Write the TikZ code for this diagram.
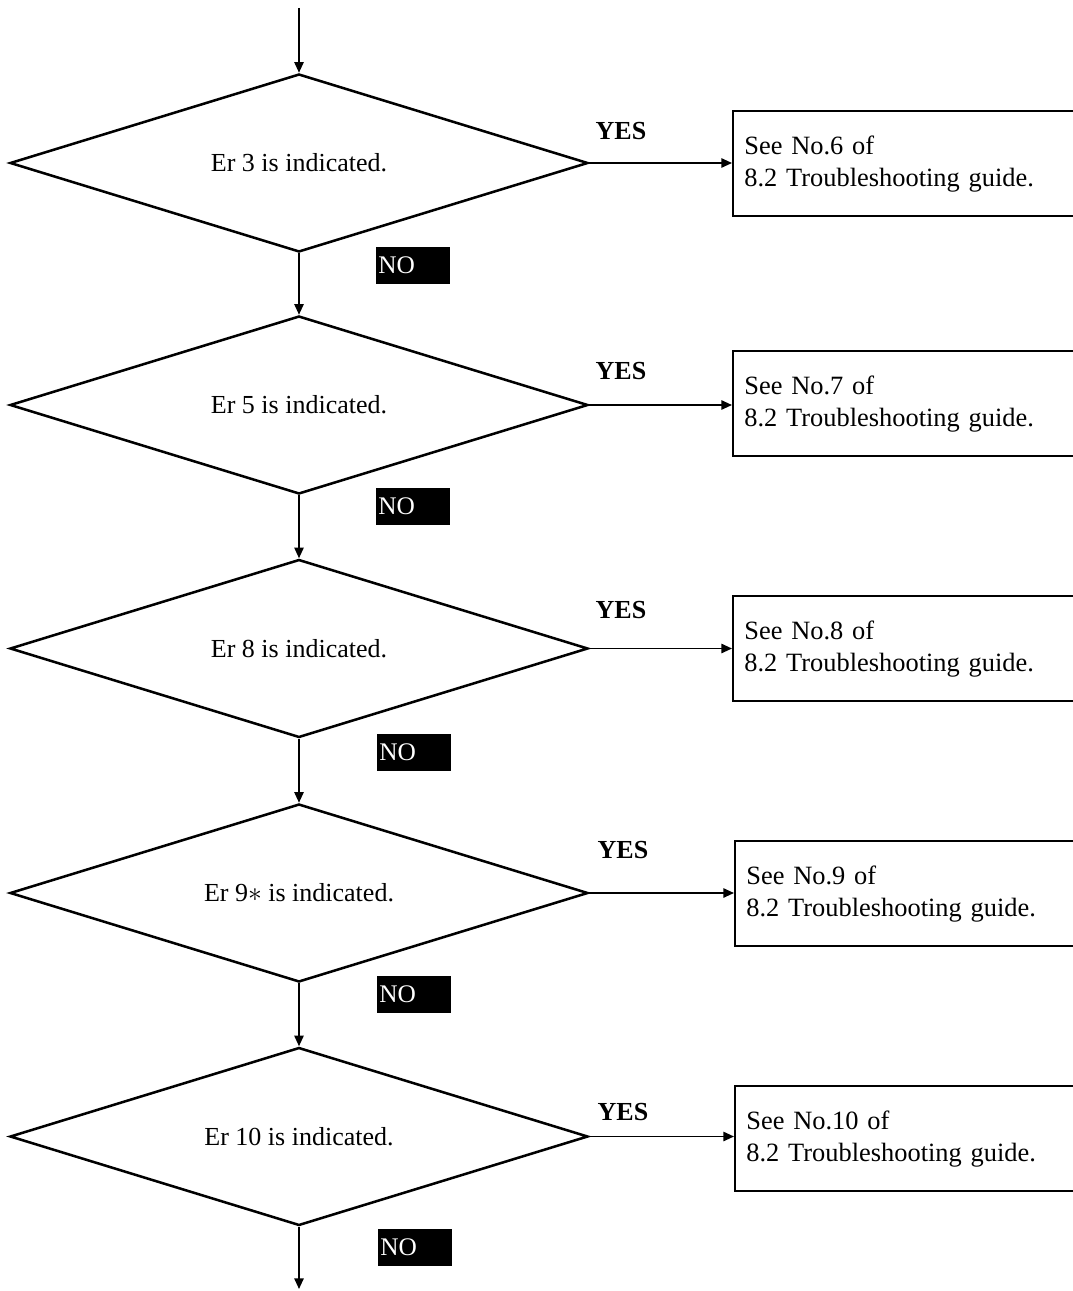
\documentclass[tikz,border=0pt]{standalone}
\usepackage{fontspec}
\setmainfont{Liberation Serif}
\usetikzlibrary{shapes.geometric,arrows.meta}
\tikzset{
  dec/.style={diamond, draw, line width=1.9pt, aspect=3.247, minimum width=433.5pt, minimum height=133.5pt,
    inner sep=0pt, font=\fontsize{19.5pt}{24pt}\selectfont},
  resbox/.style={draw, line width=1.6pt, rectangle, anchor=north west, minimum width=300pt,
    minimum height=79pt, inner xsep=8.5pt, inner ysep=0pt, text width=283pt, align=left,
    font=\fontsize{19.8pt}{23.8pt}\selectfont},
  yeslab/.style={font=\bfseries\fontsize{19.5pt}{24pt}\selectfont, inner sep=0pt},
  nobox/.style={fill=black, text=white, anchor=north west, inner xsep=1.5pt, inner ysep=0pt,
    text width=52.5pt, minimum height=27.5pt, align=left, font=\fontsize{19pt}{24pt}\selectfont},
  arr/.style={line width=1.3pt, -{Triangle[length=8pt,width=7pt]}},
}
\begin{document}
\begin{tikzpicture}[x=0.75pt,y=-0.75pt]
\useasboundingbox (0,0) rectangle (1073,1291);
\clip (0,0) rectangle (1073,1291);
% decisions
\node[dec] (d1) at (299,163) {Er 3 is indicated.};
\node[dec] (d2) at (299,405) {Er 5 is indicated.};
\node[dec] (d3) at (299,648.5) {Er 8 is indicated.};
\node[dec] (d4) at (299,893) {Er 9$*$ is indicated.};
\node[dec] (d5) at (299,1136.5) {Er 10 is indicated.};
% result boxes
\node[resbox] (b1) at (732,110) {See No.6 of\\8.2 Troubleshooting guide.};
\node[resbox] (b2) at (732,350) {See No.7 of\\8.2 Troubleshooting guide.};
\node[resbox] (b3) at (732,595) {See No.8 of\\8.2 Troubleshooting guide.};
\node[resbox] (b4) at (734,840) {See No.9 of\\8.2 Troubleshooting guide.};
\node[resbox] (b5) at (734,1085) {See No.10 of\\8.2 Troubleshooting guide.};
% YES labels
\node[yeslab] (y1) at (621,131) {YES};
\node[yeslab] (y2) at (621,371) {YES};
\node[yeslab] (y3) at (621,610) {YES};
\node[yeslab] (y4) at (623,850) {YES};
\node[yeslab] (y5) at (623,1112) {YES};
% NO labels
\node[nobox] (n1) at (376,247) {NO};
\node[nobox] (n2) at (376,488) {NO};
\node[nobox] (n3) at (377,734) {NO};
\node[nobox] (n4) at (377,976) {NO};
\node[nobox] (n5) at (378,1229) {NO};
% connectors
\coordinate (start) at (299,8);
\coordinate (finish) at (299,1289);
\draw[arr] (start) -- (d1.north);
\draw[arr] (d1.south) -- (d2.north);
\draw[arr] (d2.south) -- (d3.north);
\draw[arr] (d3.south) -- (d4.north);
\draw[arr] (d4.south) -- (d5.north);
\draw[arr] (d5.south) -- (finish);
\draw[arr] (d1.east) -- (d1.east -| b1.west);
\draw[arr] (d2.east) -- (d2.east -| b2.west);
\draw[arr] (d3.east) -- (d3.east -| b3.west);
\draw[arr] (d4.east) -- (d4.east -| b4.west);
\draw[arr] (d5.east) -- (d5.east -| b5.west);
\end{tikzpicture}
\end{document}
